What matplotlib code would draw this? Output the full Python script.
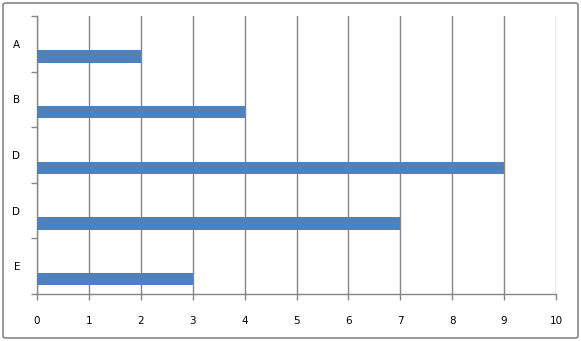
import numpy as np
import matplotlib.pyplot as plt
from matplotlib.patches import FancyBboxPatch

categories = ['A', 'B', 'D', 'D', 'E']
values = [2, 4, 9, 7, 3]
x_ticks = list(range(0, 11))

grid_col = '#868686'
bar_col = '#4F81BD'

fig = plt.figure(figsize=(5.81, 3.41), dpi=100)
ax = fig.add_axes([37 / 581, 1 - 294 / 341, (556 - 37) / 581, (294 - 16) / 341])

pos = np.arange(len(categories))
# bars sit in the lower part of each category band
ax.barh(pos + 0.23, values, height=0.22, color=bar_col, zorder=3)

ax.set_xlim(0, 10)
ax.set_ylim(len(categories) - 0.5, -0.5)
ax.set_xticks(x_ticks)
ax.set_xticklabels([str(v) for v in x_ticks])
ax.set_yticks(pos)
ax.set_yticklabels(categories)
ax.set_yticks(np.arange(-0.5, len(categories)), minor=True)

ax.grid(axis='x', color=grid_col, linewidth=1, zorder=0)
for s in ['top', 'right']:
    ax.spines[s].set_visible(False)
for s in ['left', 'bottom']:
    ax.spines[s].set_color(grid_col)
    ax.spines[s].set_linewidth(1)

ax.tick_params(axis='x', colors=grid_col, length=4, width=1, labelcolor='black',
               labelsize=7.5, pad=12)
ax.tick_params(axis='y', which='major', length=0, labelsize=7.5, pad=12)
ax.tick_params(axis='y', which='minor', colors=grid_col, length=4, width=1)

border = FancyBboxPatch((3 / 581, 3 / 341), 575 / 581, 335 / 341,
                        boxstyle='round,pad=0,rounding_size=0.005',
                        transform=fig.transFigure, facecolor='none',
                        edgecolor=grid_col, linewidth=1.2)
fig.patches.append(border)

fig.savefig('out.png', dpi=100)
